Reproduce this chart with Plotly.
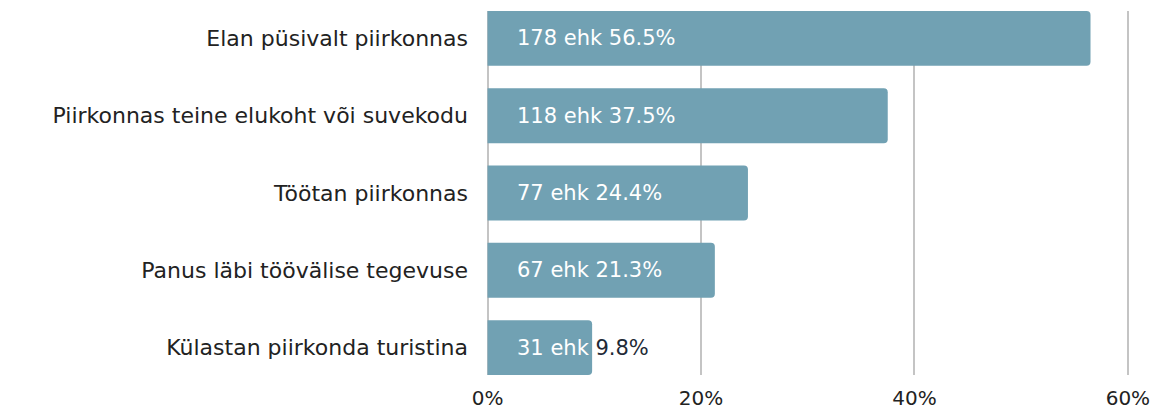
import plotly.graph_objects as go

categories = [
    "Elan püsivalt piirkonnas",
    "Piirkonnas teine elukoht või suvekodu",
    "Töötan piirkonnas",
    "Panus läbi töövälise tegevuse",
    "Külastan piirkonda turistina",
]
counts = [178, 118, 77, 67, 31]
percents = [56.5, 37.5, 24.4, 21.3, 9.8]
tick_vals = [0, 20, 40, 60]
tick_text = ["0%", "20%", "40%", "60%"]

FONT = "DejaVu Sans"
BAR = "#71a1b3"
DARK = "#1f2a36"

fig = go.Figure()
fig.add_trace(go.Bar(
    y=categories, x=percents, orientation="h",
    marker=dict(color=BAR, cornerradius=4, line=dict(width=0)),
    width=0.71, hoverinfo="skip",
))

annotations = []
for cat, c, p in zip(categories, counts, percents):
    if p < 12:
        txt = f"{c} ehk <span style='color:{DARK}'>{p}%</span>"
    else:
        txt = f"{c} ehk {p}%"
    annotations.append(dict(
        x=0, y=cat, xref="x", yref="y", text=txt, showarrow=False,
        xanchor="left", yanchor="middle", xshift=27,
        font=dict(family=FONT, size=21, color="white"),
    ))

fig.update_layout(
    width=1156, height=410,
    margin=dict(l=487, r=26, t=11, b=35, autoexpand=False),
    paper_bgcolor="white", plot_bgcolor="white",
    showlegend=False,
    annotations=annotations,
    font=dict(family=FONT, size=21, color="#222222"),
    xaxis=dict(range=[-0.05, 60.2], tickvals=tick_vals, ticktext=tick_text,
               showgrid=True, gridcolor="#c4c4c4", gridwidth=1.5,
               zeroline=True, zerolinecolor="#c4c4c4", zerolinewidth=1.5,
               showline=False, ticks="",
               automargin=False, ticklabelstandoff=9,
               tickfont=dict(family=FONT, size=20, color="#222222")),
    yaxis=dict(categoryorder="array", categoryarray=categories,
               range=[4.355, -0.355], showgrid=False, zeroline=False,
               showline=False, ticks="", automargin=False,
               ticklabelstandoff=18,
               tickfont=dict(family=FONT, size=22, color="#222222")),
)
fig.update_xaxes(layer="below traces")

fig.write_html("out.html", config={"displayModeBar": False},
               post_script="document.body.style.margin='0';")
